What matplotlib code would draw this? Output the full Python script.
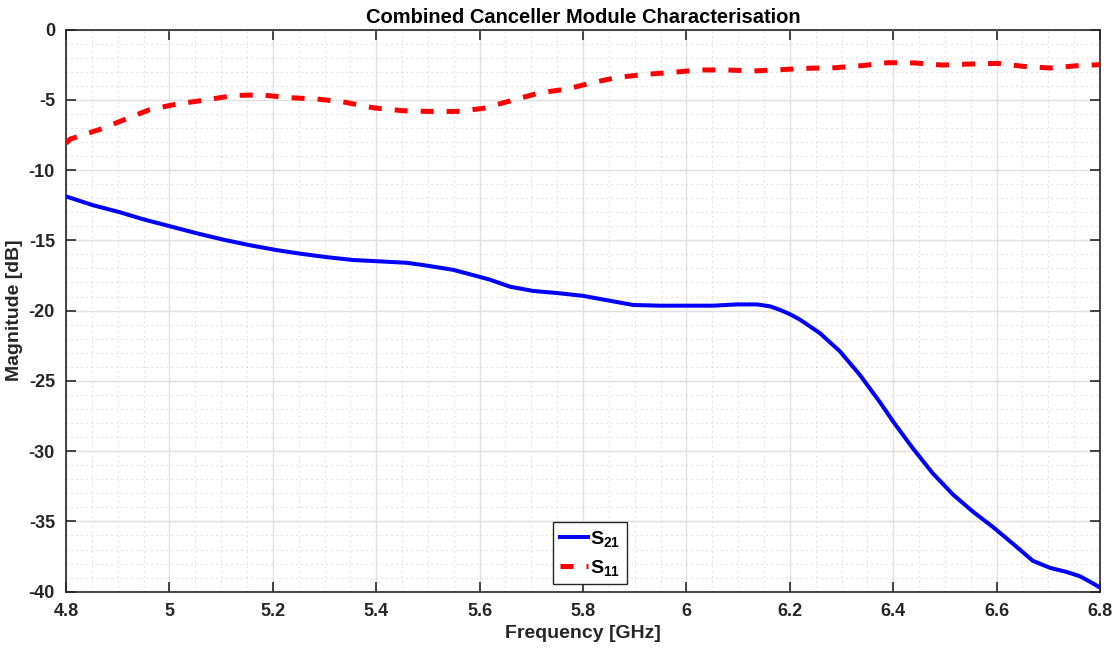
import matplotlib
matplotlib.use("Agg")
import matplotlib.pyplot as plt
from matplotlib.ticker import MultipleLocator

# ---- data ----
freq_s21 = [4.802, 4.852, 4.904, 4.949, 5.001, 5.053, 5.104, 5.156, 5.208, 5.253,
            5.305, 5.355, 5.408, 5.460, 5.498, 5.549, 5.595, 5.620, 5.659, 5.703,
            5.750, 5.800, 5.852, 5.897, 5.949, 6.001, 6.051, 6.098, 6.137, 6.162,
            6.181, 6.200, 6.220, 6.258, 6.297, 6.336, 6.374, 6.400, 6.438, 6.477,
            6.516, 6.554, 6.593, 6.632, 6.670, 6.703, 6.736, 6.761, 6.781, 6.800]
s21_db = [-11.9, -12.5, -13.0, -13.5, -14.0, -14.5, -14.95, -15.35, -15.7, -15.95,
          -16.2, -16.4, -16.5, -16.6, -16.8, -17.1, -17.55, -17.8, -18.3, -18.6,
          -18.75, -18.95, -19.3, -19.6, -19.65, -19.65, -19.65, -19.56, -19.56, -19.7,
          -19.95, -20.25, -20.65, -21.6, -22.9, -24.6, -26.5, -27.9, -29.8, -31.6,
          -33.1, -34.3, -35.4, -36.6, -37.8, -38.3, -38.6, -38.9, -39.3, -39.7]

freq_s11 = [4.800, 4.808, 4.866, 4.914, 4.962, 5.015, 5.073, 5.123, 5.175, 5.233,
            5.286, 5.336, 5.394, 5.452, 5.504, 5.556, 5.607, 5.665, 5.717, 5.769,
            5.817, 5.868, 5.920, 5.972, 6.026, 6.079, 6.129, 6.181, 6.235, 6.287,
            6.340, 6.390, 6.442, 6.494, 6.545, 6.601, 6.651, 6.703, 6.755, 6.800]
s11_db = [-8.1, -7.8, -7.1, -6.4, -5.7, -5.3, -5.0, -4.7, -4.65, -4.85,
          -4.95, -5.15, -5.57, -5.78, -5.83, -5.83, -5.61, -5.02, -4.5, -4.24,
          -3.79, -3.4, -3.2, -3.05, -2.88, -2.88, -2.95, -2.86, -2.76, -2.72,
          -2.57, -2.36, -2.38, -2.53, -2.46, -2.41, -2.62, -2.74, -2.58, -2.5]

x_ticks = [4.8, 5.0, 5.2, 5.4, 5.6, 5.8, 6.0, 6.2, 6.4, 6.6, 6.8]
x_tick_labels = ["4.8", "5", "5.2", "5.4", "5.6", "5.8", "6", "6.2", "6.4", "6.6", "6.8"]
y_ticks = [0, -5, -10, -15, -20, -25, -30, -35, -40]

title = "Combined Canceller Module Characterisation"
xlabel = "Frequency [GHz]"
ylabel = "Magnitude [dB]"
labels = [r"$\mathbf{S_{21}}$", r"$\mathbf{S_{11}}$"]

# ---- style ----
plt.rcParams["font.family"] = ["Liberation Sans", "DejaVu Sans"]
plt.rcParams["axes.unicode_minus"] = False
plt.rcParams["mathtext.fontset"] = "custom"
plt.rcParams["mathtext.bf"] = "Liberation Sans:bold"
plt.rcParams["mathtext.rm"] = "Liberation Sans"
txt = "#262626"

fig = plt.figure(figsize=(11.18, 6.51), dpi=100)
ax = fig.add_axes([66 / 1118, 1 - 591.7 / 651, (1100 - 66) / 1118, (591.7 - 29.5) / 651])

ax.plot(freq_s21, s21_db, color="#0000ff", lw=2.9, label=labels[0], zorder=3,
        solid_joinstyle="round")
ax.plot(freq_s11, s11_db, color="#ff0000", lw=3.6, linestyle=(0, (2.6, 2.6)),
        dash_capstyle="butt", label=labels[1], zorder=3)

ax.set_xlim(4.8, 6.8)
ax.set_ylim(-40, 0)
ax.set_xticks(x_ticks)
ax.set_xticklabels(x_tick_labels)
ax.set_yticks(y_ticks)
ax.xaxis.set_minor_locator(MultipleLocator(0.05))
ax.yaxis.set_minor_locator(MultipleLocator(1))

ax.grid(True, which="major", color="#e0e0e0", lw=1.0, ls="-")
ax.grid(True, which="minor", color="#d2d2d2", lw=0.8, ls=(0, (1, 3.5)))
ax.set_axisbelow(True)

ax.tick_params(which="major", direction="in", length=7, width=1.2, colors=txt,
               top=True, right=True, labelsize=13, pad=8)
ax.tick_params(which="minor", length=0, top=True, right=True)
for lbl in ax.get_xticklabels() + ax.get_yticklabels():
    lbl.set_fontweight("bold")
for s in ax.spines.values():
    s.set_color(txt)
    s.set_linewidth(1.2)

ax.set_title(title, fontsize=14.5, fontweight="bold", color="black", pad=5,
             family=["Liberation Sans Narrow", "Liberation Sans", "DejaVu Sans"])
ax.set_xlabel(xlabel, fontsize=14, fontweight="bold", color=txt, labelpad=4)
ax.set_ylabel(ylabel, fontsize=14, fontweight="bold", color=txt, labelpad=4)

leg = ax.legend(loc="lower left", bbox_to_anchor=(0.471, 0.013), fontsize=14,
                frameon=True, fancybox=False, framealpha=1, edgecolor="#262626",
                handlelength=1.45, handletextpad=0.1, borderpad=0.35, labelspacing=0.45,
                borderaxespad=0)
leg.get_frame().set_linewidth(1.0)

fig.savefig("out.png", dpi=100)
